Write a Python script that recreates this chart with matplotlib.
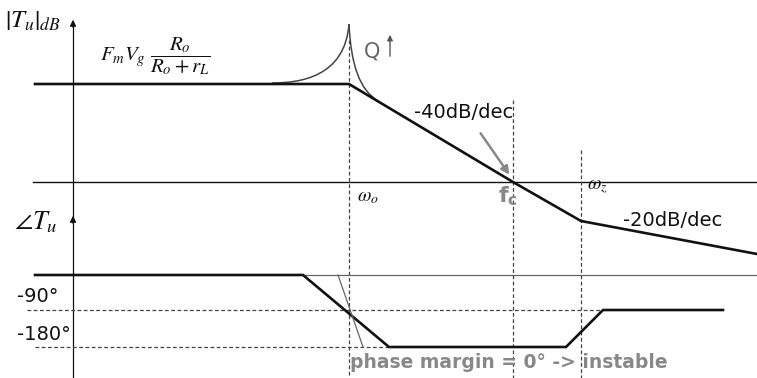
import matplotlib.pyplot as plt
from matplotlib.path import Path
from matplotlib.patches import PathPatch

# canvas is laid out in pixel-like units: x grows right, y grows down
W, H = 757, 378

# magnitude asymptote: flat gain, -40dB/dec after w_o, -20dB/dec after w_z
mag_x = [35, 349, 513, 581, 757]
mag_y = [84, 84, 182, 221, 254]

# resonance peak (Q) around w_o, control points of two bezier branches
peak_left = [(272, 83), (300, 83), (345, 77), (349, 24)]
peak_right = [(349, 24), (351, 66), (360, 90), (378, 101)]

# phase asymptote
phase_x = [35, 303, 389, 566, 603, 723]
phase_y = [275, 275, 347, 347, 310, 310]
# steep phase drop for the high-Q case
steep_x = [338, 363]
steep_y = [275, 347]

axis_x = 73
zero_db_y = 182
zero_deg_y = 275
level_90 = 310
level_180 = 347
w_o, f_c, w_z = 349, 513, 581

plt.rcParams['mathtext.fontset'] = 'stix'
fig = plt.figure(figsize=(W / 100, H / 100), dpi=100)
ax = fig.add_axes([0, 0, 1, 1])
ax.set_xlim(0, W)
ax.set_ylim(H, 0)
ax.axis('off')

ink = '#111111'
grey = '#888888'

# axes
ax.plot([axis_x, axis_x], [22, H], color=ink, lw=0.9)
ax.annotate('', xy=(axis_x, 17), xytext=(axis_x, 30),
            arrowprops=dict(arrowstyle='-|>', color=ink, lw=0.9, mutation_scale=9))
ax.annotate('', xy=(axis_x, 213), xytext=(axis_x, 226),
            arrowprops=dict(arrowstyle='-|>', color=ink, lw=0.9, mutation_scale=9))
ax.plot([33, W], [zero_db_y, zero_db_y], color=ink, lw=1.0)
ax.plot([303, W], [zero_deg_y, zero_deg_y], color='#666666', lw=0.9)

# dashed guides
dash = dict(color='#444444', lw=0.9, ls=(0, (3, 2)))
ax.plot([w_o, w_o], [40, H], **dash)
ax.plot([f_c, f_c], [100, H], **dash)
ax.plot([w_z, w_z], [150, H], **dash)
ax.plot([27, 603], [level_90, level_90], **dash)
ax.plot([35, 389], [level_180, level_180], **dash)

# magnitude
ax.plot(mag_x, mag_y, color=ink, lw=1.9, solid_joinstyle='miter')
for pts in (peak_left, peak_right):
    codes = [Path.MOVETO, Path.CURVE4, Path.CURVE4, Path.CURVE4]
    ax.add_patch(PathPatch(Path(pts, codes), fill=False, color='#444444', lw=1.1))

# phase
ax.plot(phase_x, phase_y, color=ink, lw=1.9, solid_joinstyle='miter')
ax.plot(steep_x, steep_y, color='#666666', lw=0.9)

# -40dB/dec pointer to crossover
ax.annotate('', xy=(511, 177), xytext=(479, 131),
            arrowprops=dict(arrowstyle='-|>', color=grey, lw=1.8, mutation_scale=12))
# Q increasing arrow
ax.annotate('', xy=(390, 32), xytext=(390, 59),
            arrowprops=dict(arrowstyle='-|>', color='#555555', lw=1.0, mutation_scale=8))

# labels
ax.text(5, 21, r'$\left|T_u\right|_{dB}$', fontsize=18, ha='left', va='center', color=ink)
ax.text(100, 56, r'$F_m V_g\ \dfrac{R_o}{R_o + r_L}$', fontsize=15, ha='left', va='center', color=ink)
ax.text(364, 52, 'Q', fontsize=15, ha='left', va='center', color='#666666')
ax.text(414, 113, '-40dB/dec', fontsize=14, ha='left', va='center', color=ink)
ax.text(623, 221, '-20dB/dec', fontsize=14, ha='left', va='center', color=ink)
ax.text(357, 196, r'$\omega_o$', fontsize=14, ha='left', va='center', color=ink)
ax.text(587, 186, r'$\omega_z$', fontsize=14, ha='left', va='center', color=ink)
ax.text(498, 196, r'$\mathbf{f}_{\mathbf{c}}$', fontsize=16, ha='left', va='center',
        color=grey, math_fontfamily='dejavusans')
ax.text(14, 222, r'$\angle T_u$', fontsize=19, ha='left', va='center', color=ink)
ax.text(17, 297, '-90°', fontsize=14, ha='left', va='center', color=ink)
ax.text(17, 334, '-180°', fontsize=14, ha='left', va='center', color=ink)
ax.text(350, 362, 'phase margin = 0° -> instable', fontsize=13.5, fontweight='bold',
        ha='left', va='center', color=grey)

fig.savefig('out.png', dpi=100)
